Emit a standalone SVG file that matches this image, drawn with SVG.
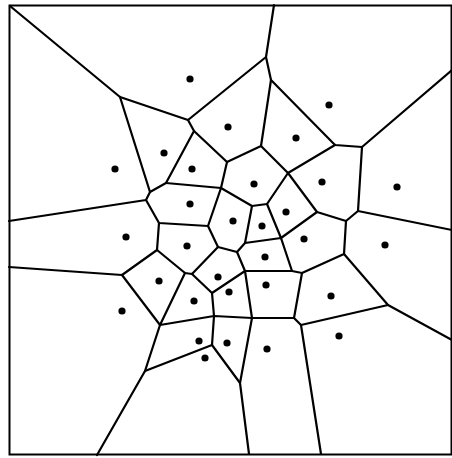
<svg xmlns="http://www.w3.org/2000/svg" width="452" height="458" viewBox="0 0 452 458">
<style>
.e{stroke:#000;stroke-width:2.2;fill:none;stroke-linecap:round;stroke-linejoin:round}
.s{fill:#000}
</style>
<rect x="0" y="0" width="452" height="458" fill="#fff"/>
<rect id="frame" x="9.5" y="5.5" width="442" height="449" fill="none" stroke="#000" stroke-width="2"/>
<g id="edges" class="e">
<path d="M10,6 L120,97 L188,120 L266,57 L274,5"/>
<path d="M120,97 L150,192 L146,200 L9,221"/>
<path d="M188,120 L194,131 L166,183 L150,192"/>
<path d="M194,131 L227,162 L221,188 L166,183"/>
<path d="M227,162 L261,146 L271,80 L266,57"/>
<path d="M271,80 L335,145 L362,147 L452,70"/>
<path d="M261,146 L288,173 L335,145"/>
<path d="M362,147 L358,211 L452,230"/>
<path d="M358,211 L346,221 L317,212 L288,173 L267,204 L252,206 L221,188"/>
<path d="M346,221 L344,254 L302,273"/>
<path d="M344,254 L388,305 L452,340"/>
<path d="M388,305 L301,325 L321,454"/>
<path d="M317,212 L281,238 L267,204"/>
<path d="M252,206 L245,243 L281,238 L292,271 L302,273 L294,318 L301,325"/>
<path d="M245,243 L237,252 L245,271 L292,271"/>
<path d="M294,318 L252,318 L245,271 L212,293"/>
<path d="M237,252 L218,247 L208,226 L221,188"/>
<path d="M252,318 L240,383 L249,454"/>
<path d="M240,383 L212,345 L145,371 L97,455"/>
<path d="M252,318 L214,316 L212,345"/>
<path d="M208,226 L159,223 L146,200"/>
<path d="M159,223 L157,250 L122,275 L9,267"/>
<path d="M157,250 L185,273 L192,274 L218,247"/>
<path d="M192,274 L212,293 L214,316 L160,325 L185,273"/>
<path d="M160,325 L122,275"/>
<path d="M160,325 L145,371"/>
</g>
<g id="sites" class="s">
<circle cx="190" cy="79" r="3.6"/>
<circle cx="329" cy="105" r="3.6"/>
<circle cx="228" cy="127" r="3.6"/>
<circle cx="296" cy="138" r="3.6"/>
<circle cx="164" cy="153" r="3.6"/>
<circle cx="115" cy="169" r="3.6"/>
<circle cx="192" cy="169" r="3.6"/>
<circle cx="254" cy="184" r="3.6"/>
<circle cx="322" cy="182" r="3.6"/>
<circle cx="397" cy="187" r="3.6"/>
<circle cx="190" cy="204" r="3.6"/>
<circle cx="286" cy="212" r="3.6"/>
<circle cx="233" cy="221" r="3.6"/>
<circle cx="262" cy="226" r="3.6"/>
<circle cx="126" cy="237" r="3.6"/>
<circle cx="187" cy="246" r="3.6"/>
<circle cx="304" cy="239" r="3.6"/>
<circle cx="385" cy="245" r="3.6"/>
<circle cx="265" cy="257" r="3.6"/>
<circle cx="159" cy="281" r="3.6"/>
<circle cx="218" cy="277" r="3.6"/>
<circle cx="229" cy="292" r="3.6"/>
<circle cx="266" cy="285" r="3.6"/>
<circle cx="331" cy="296" r="3.6"/>
<circle cx="194" cy="301" r="3.6"/>
<circle cx="122" cy="311" r="3.6"/>
<circle cx="199" cy="341" r="3.6"/>
<circle cx="205" cy="358" r="3.6"/>
<circle cx="227" cy="343" r="3.6"/>
<circle cx="267" cy="349" r="3.6"/>
<circle cx="339" cy="336" r="3.6"/>
</g>
</svg>
